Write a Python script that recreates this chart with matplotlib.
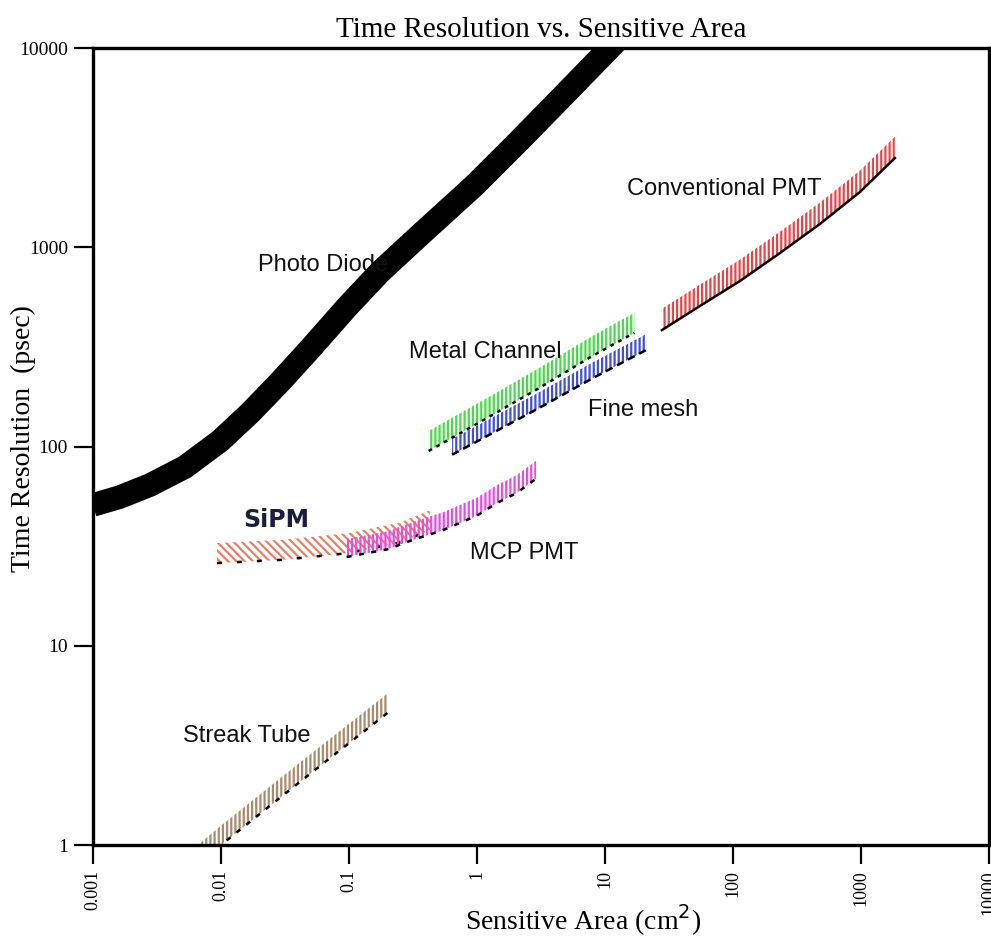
import numpy as np
import matplotlib
matplotlib.use("Agg")
import matplotlib.pyplot as plt

plt.rcParams['font.family'] = 'Liberation Serif'
plt.rcParams['hatch.linewidth'] = 1.6

# photo diode curve
pd_area = [0.001, 0.001625, 0.00279, 0.00523, 0.00982, 0.01686, 0.0289, 0.0496,
           0.0982, 0.1746, 0.359, 0.964, 2.17, 4.87, 10.9, 15.7]
pd_time = [50.9, 55.8, 64.1, 78.9, 106.6, 147.3, 210.8, 308.5,
           507, 751, 1152, 2052, 3454, 5875, 10000, 12740]

# hatched bands: lower edge of each band, upper edge = lower * width factor
pmt_area = [27.9, 55.2, 113.5, 233, 478, 982, 1845]
pmt_low = [384, 507, 677, 935, 1308, 1893, 2805]

metal_area = [0.42, 1.0, 3.0, 8.0, 17.0]
metal_low = [95, 130, 195, 285, 372]

mesh_area = [0.64, 1.0, 3.0, 8.0, 21.0]
mesh_low = [91, 106, 155, 220, 305]

sipm_area = [0.0093, 0.03, 0.1, 0.25, 0.43]
sipm_low = [26, 27, 29.2, 33, 38]

mcp_area = [0.096, 0.2, 0.316, 0.54, 1.0, 1.43, 2.05, 2.9]
mcp_low = [27.9, 30.5, 34, 38, 45, 52, 58.5, 69]

streak_area = [0.0066, 0.01, 0.03, 0.08, 0.2]
streak_low = [0.8, 1.0, 1.76, 2.9, 4.6]

bands = [
    # area, lower, factor, colour, hatch, edge line style
    (pmt_area, pmt_low, 1.28, '#e04848', '||||', '-'),
    (metal_area, metal_low, 1.26, '#4cd84c', '||||', (0, (1.5, 2))),
    (mesh_area, mesh_low, 1.2, '#4050d0', '||||', (0, (3, 2))),
    (sipm_area, sipm_low, 1.26, '#e8806a', '\\\\\\\\', (0, (2, 6))),
    (mcp_area, mcp_low, 1.23, '#e050e0', '||||', (0, (2, 3))),
    (streak_area, streak_low, 1.25, '#a88a6c', '||||', (0, (2, 3))),
]

labels = ["Photo Diode", "Conventional PMT", "Metal Channel", "Fine mesh",
          "MCP PMT", "Streak Tube"]
label_x = [0.0195, 14.9, 0.294, 7.36, 0.88, 0.00505]
label_y = [815, 1960, 298, 152, 29.2, 3.52]

fig = plt.figure(figsize=(9.91, 9.38), dpi=100)
ax = fig.add_axes([0.0938, 0.0991, 0.904, 0.8497])
ax.set_xscale('log')
ax.set_yscale('log')
ax.set_xlim(0.001, 10000)
ax.set_ylim(1, 10000)

ax.plot(pd_area, pd_time, color='black', lw=17, solid_capstyle='butt',
        solid_joinstyle='round', zorder=3)

for area, low, k, col, hatch, ls in bands:
    low = np.array(low, dtype=float)
    ax.fill_between(area, low, low * k, facecolor='none', edgecolor=col,
                    hatch=hatch, linewidth=0, zorder=2)
    ax.plot(area, low, color='black', lw=1.8, linestyle=ls, zorder=2)

for txt, x, y in zip(labels, label_x, label_y):
    ax.text(x, y, txt, family='Liberation Sans', fontsize=17, ha='left',
            va='center', color='#111111', zorder=4)
ax.text(0.0149, 42.8, "SiPM", family='DejaVu Sans', fontweight='bold',
        fontsize=17, ha='left', va='center', color='#1c1c3c', zorder=4)

ticks_x = [0.001, 0.01, 0.1, 1, 10, 100, 1000, 10000]
ticks_y = [1, 10, 100, 1000, 10000]
ax.set_xticks(ticks_x)
ax.set_xticklabels(["0.001", "0.01", "0.1", "1", "10", "100", "1000", "10000"],
                   rotation=90)
ax.set_yticks(ticks_y)
ax.set_yticklabels(["1", "10", "100", "1000", "10000"])
ax.minorticks_off()
ax.tick_params(direction='out', length=14, width=1.6, pad=4)
ax.tick_params(axis='x', labelsize=13)
ax.tick_params(axis='y', labelsize=14)

for s in ax.spines.values():
    s.set_linewidth(2.4)

ax.set_title("Time Resolution vs. Sensitive Area", fontsize=21, pad=8)
ax.set_ylabel("Time Resolution  (psec)", fontsize=20)
ax.yaxis.set_label_coords(-0.064, 0.51)
ax.set_xlabel("Sensitive Area (cm$^2$)", fontsize=20)
ax.xaxis.set_label_coords(0.547, -0.072)

fig.savefig("out.png", dpi=100)
